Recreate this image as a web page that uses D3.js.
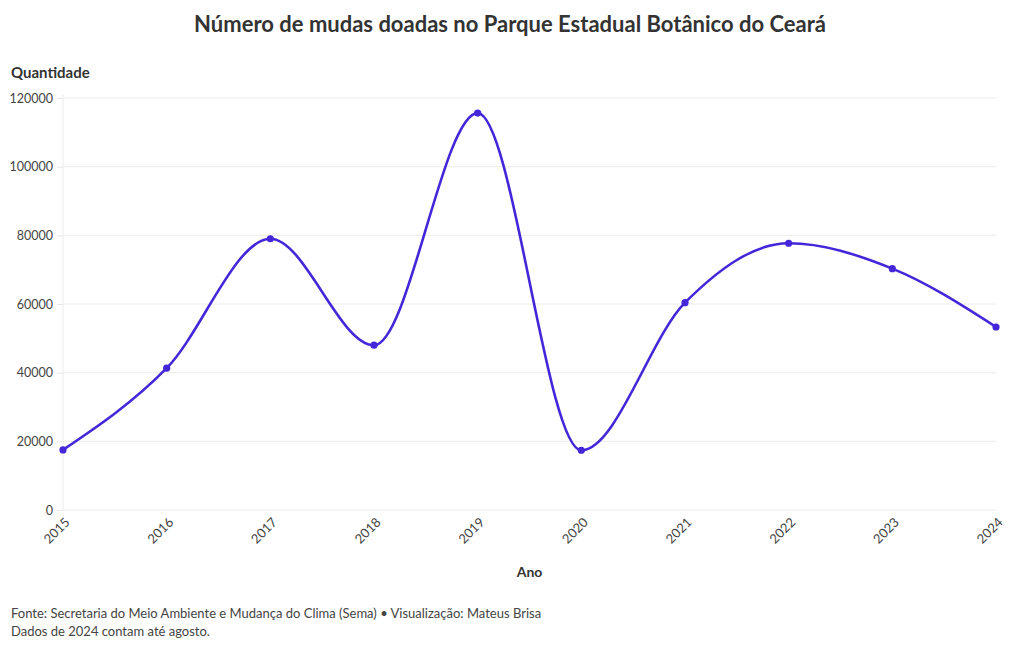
<!DOCTYPE html>
<html>
<head>
<meta charset="utf-8">
<script src="https://cdn.jsdelivr.net/npm/d3@7"></script>
<style>
  body { margin: 0; background: #fff; font-family: Lato, "Noto Sans", sans-serif; }
</style>
</head>
<body>
<div class="container"></div>
<script>
// chart data
const years = [2015, 2016, 2017, 2018, 2019, 2020, 2021, 2022, 2023, 2024];
const mudas = [17500, 41300, 79000, 48000, 115600, 17400, 60400, 77700, 70300, 53300];
const yTicks = [0, 20000, 40000, 60000, 80000, 100000, 120000];

const width = 1020;
const height = 650;
const margin = { top: 98, right: 24, bottom: 140, left: 63 };

const svg = d3.select(".container")
  .append("svg")
  .attr("width", width)
  .attr("height", height);

const x = d3.scalePoint()
  .domain(years)
  .range([margin.left, width - margin.right]);

const y = d3.scaleLinear()
  .domain([0, 120000])
  .range([510, margin.top]);

// title
svg.append("text")
  .attr("x", 510)
  .attr("y", 32)
  .attr("text-anchor", "middle")
  .attr("font-size", 22)
  .attr("font-weight", "bold")
  .attr("fill", "#333")
  .text("Número de mudas doadas no Parque Estadual Botânico do Ceará");

// y gridlines + axis
const yAxis = svg.append("g")
  .attr("transform", `translate(${margin.left},0)`)
  .call(d3.axisLeft(y).tickValues(yTicks).tickSize(6).tickFormat(d => d));
yAxis.select(".domain").remove();
yAxis.selectAll(".tick line").attr("stroke", "#e8e8e8");
yAxis.selectAll(".tick text")
  .attr("font-size", 12.5)
  .attr("fill", "#444")
  .attr("font-family", "Lato, sans-serif")
  .attr("x", -10);

svg.append("g")
  .selectAll("line")
  .data(yTicks)
  .join("line")
  .attr("x1", margin.left)
  .attr("x2", width - margin.right)
  .attr("y1", d => y(d))
  .attr("y2", d => y(d))
  .attr("stroke", "#ececec");

svg.append("line")
  .attr("x1", margin.left).attr("x2", margin.left)
  .attr("y1", margin.top - 4).attr("y2", y(0))
  .attr("stroke", "#ececec");

// x axis
const xAxis = svg.append("g")
  .attr("transform", `translate(0,${y(0)})`)
  .call(d3.axisBottom(x).tickSize(0).tickFormat(d => d));
xAxis.select(".domain").remove();
xAxis.selectAll(".tick text")
  .attr("font-size", 13)
  .attr("fill", "#444")
  .attr("font-family", "Lato, sans-serif")
  .attr("text-anchor", "end")
  .attr("dy", 0)
  .attr("transform", "translate(5,11) rotate(-45)");

// axis titles
svg.append("text")
  .attr("x", 11)
  .attr("y", 78)
  .attr("font-size", 15)
  .attr("font-weight", "bold")
  .attr("fill", "#333")
  .text("Quantidade");

svg.append("text")
  .attr("x", (margin.left + width - margin.right) / 2)
  .attr("y", 577)
  .attr("text-anchor", "middle")
  .attr("font-size", 14)
  .attr("font-weight", "bold")
  .attr("fill", "#333")
  .text("Ano");

// line
const line = d3.line()
  .x((d, i) => x(years[i]))
  .y(d => y(d))
  .curve(d3.curveMonotoneX);

svg.append("path")
  .datum(mudas)
  .attr("d", line)
  .attr("fill", "none")
  .attr("stroke", "#4527d9")
  .attr("stroke-width", 2.6);

svg.append("g")
  .selectAll("circle")
  .data(mudas)
  .join("circle")
  .attr("cx", (d, i) => x(years[i]))
  .attr("cy", d => y(d))
  .attr("r", 3.6)
  .attr("fill", "#4527d9");

// footer
const footer = svg.append("text")
  .attr("font-size", 13)
  .attr("fill", "#444");
footer.append("tspan").attr("x", 11).attr("y", 618)
  .text("Fonte: Secretaria do Meio Ambiente e Mudança do Clima (Sema) • Visualização: Mateus Brisa");
footer.append("tspan").attr("x", 11).attr("y", 636)
  .text("Dados de 2024 contam até agosto.");
</script>
</body>
</html>
